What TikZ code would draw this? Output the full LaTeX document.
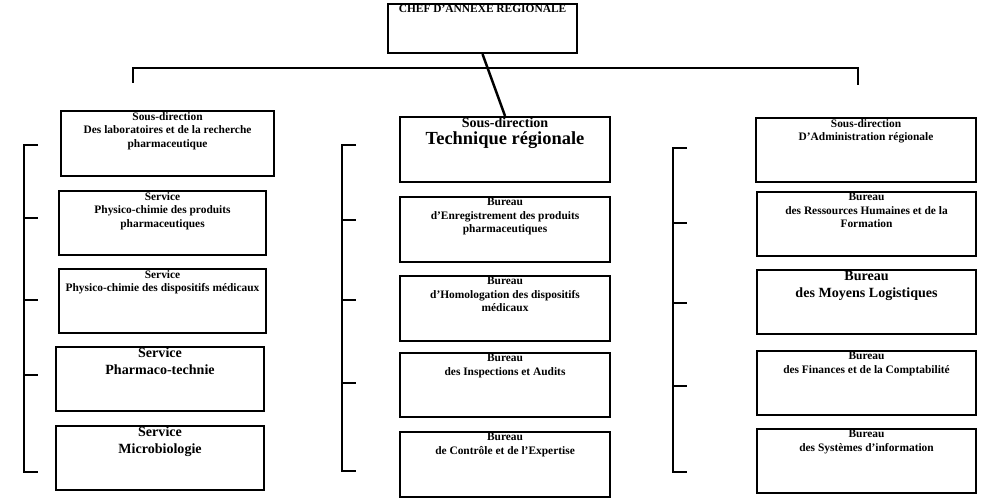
\documentclass[tikz,border=0pt]{standalone}
\usepackage{fontspec}
\setmainfont{Liberation Serif}
\usetikzlibrary{positioning}

\begin{document}
\begin{tikzpicture}[
        x=0.02cm, y=-0.02cm,
        box/.style={rectangle, draw, line width=1.2pt, anchor=north west, inner sep=0pt, minimum height=1.28cm},
        txt/.style={anchor=north, align=center, font=\bfseries\fontsize{6.5}{7.8}\selectfont, inner sep=1pt},
        mid/.style={anchor=north, align=center, font=\bfseries\fontsize{8}{9.6}\selectfont, inner sep=1pt},
        link/.style={line width=1.4pt}
    ]
        \useasboundingbox (0,0) rectangle (1000,500);

        % Head
        \node[box, minimum width=3.78cm, minimum height=0.98cm, label={[txt]north:CHEF D'ANNEXE REGIONALE}] (chef) at (387,3) {};

        % Left column
        \node[box, minimum width=4.26cm, minimum height=1.3cm, label={[txt]north:Sous-direction\\Des laboratoires et de la recherche\\pharmaceutique}] (l1) at (60,110) {};
        \node[box, minimum width=4.14cm, label={[txt]north:Service\\Physico-chimie des produits\\pharmaceutiques}] (l2) at (58,190) {};
        \node[box, minimum width=4.14cm, label={[txt]north:Service\\Physico-chimie des dispositifs médicaux}] (l3) at (58,268) {};
        \node[box, minimum width=4.16cm, label={[mid]north:Service\\Pharmaco-technie}] (l4) at (55,346) {};
        \node[box, minimum width=4.16cm, label={[mid]north:Service\\Microbiologie}] (l5) at (55,425) {};

        % Middle column
        \node[box, minimum width=4.2cm, minimum height=1.3cm, label={[txt, font=\bfseries\fontsize{8}{9.6}\selectfont]north:Sous-direction\\{\fontsize{10.5}{12.6}\selectfont Technique régionale}}] (m1) at (399,116) {};
        \node[box, minimum width=4.2cm, minimum height=1.3cm, label={[txt]north:Bureau\\d'Enregistrement des produits\\pharmaceutiques}] (m2) at (399,196) {};
        \node[box, minimum width=4.2cm, minimum height=1.3cm, label={[txt]north:Bureau\\d'Homologation des dispositifs\\médicaux}] (m3) at (399,275) {};
        \node[box, minimum width=4.2cm, label={[txt]north:Bureau\\des Inspections et Audits}] (m4) at (399,352) {};
        \node[box, minimum width=4.2cm, minimum height=1.3cm, label={[txt]north:Bureau\\de Contrôle et de l'Expertise}] (m5) at (399,431) {};

        % Right column
        \node[box, minimum width=4.4cm, label={[txt]north:Sous-direction\\D'Administration régionale}] (r1) at (755,117) {};
        \node[box, minimum width=4.38cm, label={[txt]north:Bureau\\des Ressources Humaines et de la\\Formation}] (r2) at (756,191) {};
        \node[box, minimum width=4.38cm, label={[mid]north:Bureau\\des Moyens Logistiques}] (r3) at (756,269) {};
        \node[box, minimum width=4.38cm, label={[txt]north:Bureau\\des Finances et de la Comptabilité}] (r4) at (756,350) {};
        \node[box, minimum width=4.38cm, label={[txt]north:Bureau\\des Systèmes d'information}] (r5) at (756,428) {};

        % Top links
        \coordinate (bl) at (133,68);
        \coordinate (br) at (858,68);
        \draw[link] (chef.south) -- (m1.north);
        \draw[link] ([yshift=-15*0.02cm]bl) -- (bl) -- (br) -- ([yshift=-17*0.02cm]br);

        % Brackets
        \foreach \bx/\ya/\yb/\yc/\yd/\ye in {24/145/218/300/375/472, 342/145/220/300/383/471, 673/148/223/303/386/472} {
            \draw[link] (\bx+14,\ya) -- (\bx,\ya) -- (\bx,\ye) -- (\bx+14,\ye);
            \foreach \yy in {\yb,\yc,\yd} \draw[link] (\bx,\yy) -- (\bx+14,\yy);
        }
\end{tikzpicture}
\end{document}
